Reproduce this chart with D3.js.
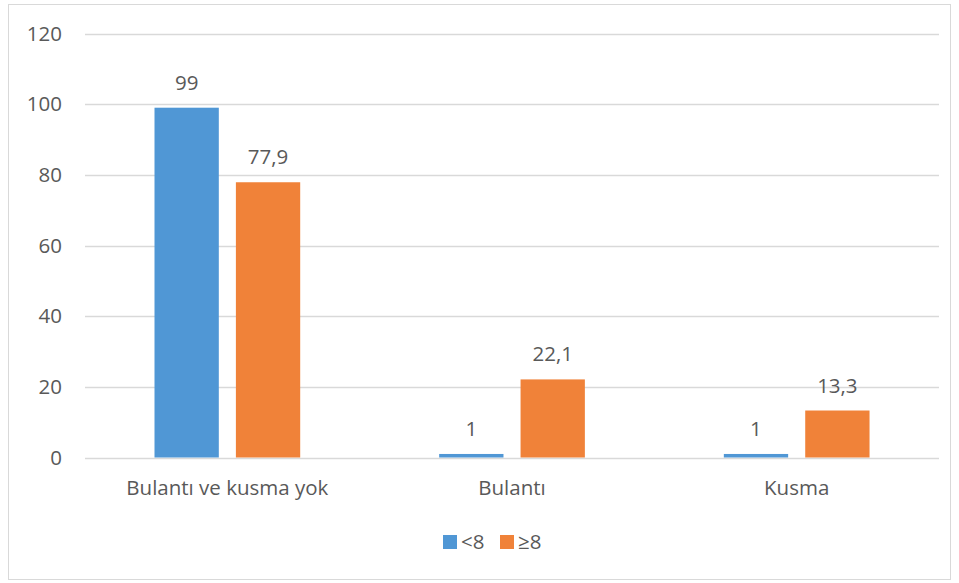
<!DOCTYPE html>
<html><head><meta charset="utf-8">
<script src="https://cdn.jsdelivr.net/npm/d3@7"></script>
<style>body{margin:0;background:#fff}svg{display:block}text{font-family:"Open Sans",sans-serif;fill:#595959}</style>
</head><body>
<svg id="c" width="959" height="583"></svg>
<script>
const categories = ["Bulantı ve kusma yok", "Bulantı", "Kusma"];
const seriesNames = ["<8", "≥8"];
const seriesLt8 = [99, 1, 1];
const seriesGe8 = [77.9, 22.1, 13.3];
const seriesLabels = [["99", "1", "1"], ["77,9", "22,1", "13,3"]];
const yTicks = [0, 20, 40, 60, 80, 100, 120];
const colors = ["#5097D5", "#F08239"];

(function () {
const FS = 20.5;
const svg = d3.select("#c");
svg.append("rect").attr("x", 8.5).attr("y", 4.5).attr("width", 942).attr("height", 575)
  .attr("fill", "#fff").attr("stroke", "#D9D9D9");

const pL = 85, pR = 939, pT = 33.5, pB = 457.5;
const x = d3.scaleBand().domain(categories).range([pL, pR]).paddingInner(0).paddingOuter(0);
const inner = d3.scaleBand().domain([0, 1]).range([69.5, 284.7 - 69.5]).paddingInner(17 / 81);
const y = d3.scaleLinear().domain([0, 120]).range([pB, pT]);

svg.append("g").selectAll("line").data(yTicks).join("line")
  .attr("x1", pL).attr("x2", pR)
  .attr("y1", d => Math.round(y(d)) + 0.5).attr("y2", d => Math.round(y(d)) + 0.5)
  .attr("stroke", "#D9D9D9").attr("stroke-width", 1.3);

const yAxis = d3.axisLeft(y).tickValues(yTicks).tickSize(0).tickPadding(0);
const ya = svg.append("g").attr("transform", `translate(62,0)`).call(yAxis);
ya.select(".domain").remove();
ya.selectAll("text").attr("font-size", FS).style("fill", "#595959").attr("font-family", '"Open Sans",sans-serif');

const series = [seriesLt8, seriesGe8];
series.forEach((vals, si) => {
  svg.append("g").selectAll("rect").data(vals).join("rect")
    .attr("x", (d, i) => x(categories[i]) + inner(si))
    .attr("width", inner.bandwidth())
    .attr("y", d => y(d))
    .attr("height", d => y(0) - y(d))
    .attr("fill", colors[si]);
  svg.append("g").selectAll("text").data(vals).join("text")
    .attr("x", (d, i) => x(categories[i]) + inner(si) + inner.bandwidth() / 2)
    .attr("y", d => y(d) - 18)
    .attr("text-anchor", "middle").attr("font-size", FS)
    .text((d, i) => seriesLabels[si][i]);
});

const xAxis = d3.axisBottom(x).tickSize(0).tickPadding(0);
const xa = svg.append("g").attr("transform", `translate(0,495)`).call(xAxis);
xa.select(".domain").remove();
xa.selectAll("text").attr("font-size", FS).attr("y", 0).attr("dy", 0).style("fill", "#595959").attr("font-family", '"Open Sans",sans-serif');

const lg = svg.append("g");
const lx = [443, 500];
seriesNames.forEach((n, i) => {
  lg.append("rect").attr("x", lx[i]).attr("y", 535).attr("width", 14).attr("height", 14).attr("fill", colors[i]);
  lg.append("text").attr("x", lx[i] + 18).attr("y", 549).attr("font-size", FS).text(n);
});
})();
</script>
</body></html>
